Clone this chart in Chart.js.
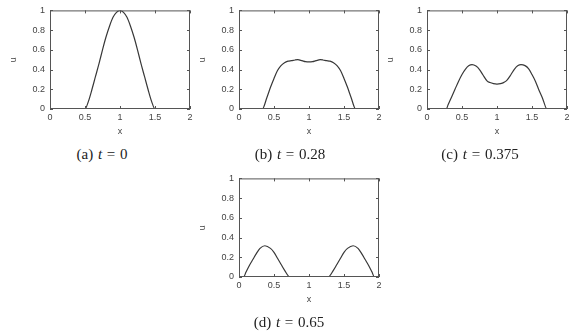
<!DOCTYPE html>
<html lang="en">
<head>
<meta charset="UTF-8">
<title>u(x) snapshots</title>
<script src="https://cdn.jsdelivr.net/npm/chart.js"></script>
<style>
  body { margin: 0; width: 573px; height: 334px; background: #fff; position: relative; overflow: hidden; }
  canvas.panel { position: absolute; }
  .cap { position: absolute; transform: translate(-50%, -50%); white-space: nowrap;
         font-family: "Liberation Serif", "Times New Roman", serif; font-size: 15px; color: #222; word-spacing: 1px; }
</style>
</head>
<body>
<canvas id="pa" class="panel" width="192" height="137" style="left:8px;top:0px"></canvas>
<canvas id="pb" class="panel" width="192" height="137" style="left:197px;top:0px"></canvas>
<canvas id="pc" class="panel" width="188" height="137" style="left:385px;top:0px"></canvas>
<canvas id="pd" class="panel" width="192" height="137" style="left:197px;top:168px"></canvas>

<div class="cap" style="left:102px;top:154px">(a) <i>t</i> = 0</div>
<div class="cap" style="left:290px;top:154px">(b) <i>t</i> = 0.28</div>
<div class="cap" style="left:480px;top:154px">(c) <i>t</i> = 0.375</div>
<div class="cap" style="left:289px;top:322px">(d) <i>t</i> = 0.65</div>

<script>
// values
const xTicks = [0, 0.5, 1, 1.5, 2];
const uTicks = [0, 0.2, 0.4, 0.6, 0.8, 1];

// (a) t = 0
const xA = [0, 0.5, 0.55, 0.6, 0.65, 0.7, 0.75, 0.8, 0.85, 0.9, 0.95, 1.0, 1.05, 1.1, 1.15, 1.2, 1.25, 1.3, 1.35, 1.4, 1.45, 1.5, 2];
const uA = [0, 0, 0.08, 0.2, 0.33, 0.46, 0.6, 0.73, 0.84, 0.93, 0.98, 1.0, 0.98, 0.93, 0.84, 0.73, 0.6, 0.46, 0.33, 0.2, 0.08, 0, 0];

// (b) t = 0.28
const xB = [0, 0.333, 0.4, 0.45, 0.5, 0.55, 0.6, 0.65, 0.7, 0.75, 0.8, 0.84, 0.9, 0.95, 1.0, 1.05, 1.1, 1.16, 1.2, 1.25, 1.3, 1.35, 1.4, 1.45, 1.5, 1.55, 1.6, 1.667, 2];
const uB = [0, 0, 0.12, 0.22, 0.31, 0.39, 0.44, 0.47, 0.485, 0.49, 0.497, 0.5, 0.49, 0.48, 0.477, 0.48, 0.49, 0.5, 0.497, 0.49, 0.485, 0.47, 0.44, 0.39, 0.31, 0.22, 0.12, 0, 0];

// (c) t = 0.375
const xC = [0, 0.276, 0.3, 0.35, 0.4, 0.45, 0.5, 0.55, 0.6, 0.643, 0.7, 0.75, 0.8, 0.857, 0.9, 0.95, 1.0, 1.05, 1.1, 1.14, 1.2, 1.25, 1.3, 1.343, 1.4, 1.45, 1.5, 1.55, 1.6, 1.65, 1.714, 2];
const uC = [0, 0, 0.04, 0.12, 0.2, 0.28, 0.35, 0.405, 0.44, 0.45, 0.435, 0.4, 0.345, 0.286, 0.268, 0.257, 0.253, 0.257, 0.27, 0.29, 0.35, 0.405, 0.44, 0.45, 0.44, 0.41, 0.35, 0.28, 0.19, 0.11, 0, 0];

// (d) t = 0.65
const xD = [0, 0.066, 0.1, 0.15, 0.2, 0.25, 0.3, 0.37, 0.45, 0.5, 0.55, 0.6, 0.65, 0.725, 1.275, 1.35, 1.4, 1.45, 1.5, 1.55, 1.63, 1.7, 1.75, 1.8, 1.85, 1.9, 1.934, 2];
const uD = [0, 0, 0.05, 0.12, 0.18, 0.24, 0.29, 0.317, 0.29, 0.25, 0.19, 0.13, 0.07, 0, 0, 0.07, 0.13, 0.19, 0.25, 0.29, 0.317, 0.29, 0.24, 0.18, 0.12, 0.05, 0, 0];

const ink = '#444';
const tickFont = { family: 'Liberation Sans, Arial, sans-serif', size: 9 };
const titleFont = { family: 'Liberation Sans, Arial, sans-serif', size: 9 };

// box around the plot with inward ticks on all four sides
const frame = {
  id: 'frame',
  afterDatasetsDraw(chart) {
    const { ctx, chartArea: a, scales: { x, y } } = chart;
    const len = 3;
    ctx.save();
    ctx.strokeStyle = '#555';
    ctx.lineWidth = 1;
    ctx.strokeRect(a.left + 0.5, a.top + 0.5, a.right - a.left - 1, a.bottom - a.top - 1);
    ctx.beginPath();
    xTicks.forEach(v => {
      const px = Math.round(x.getPixelForValue(v)) + 0.5;
      ctx.moveTo(px, a.bottom); ctx.lineTo(px, a.bottom - len);
      ctx.moveTo(px, a.top); ctx.lineTo(px, a.top + len);
    });
    uTicks.forEach(v => {
      const py = Math.round(y.getPixelForValue(v)) + 0.5;
      ctx.moveTo(a.left, py); ctx.lineTo(a.left + len, py);
      ctx.moveTo(a.right, py); ctx.lineTo(a.right - len, py);
    });
    ctx.stroke();
    ctx.restore();
  }
};

function makePanel(id, xs, us, padRight) {
  new Chart(document.getElementById(id), {
    type: 'line',
    data: {
      datasets: [{
        data: xs.map((x, i) => ({ x: x, y: us[i] })),
        borderColor: '#383838',
        borderWidth: 1.2,
        pointRadius: 0,
        cubicInterpolationMode: 'monotone',
        fill: false
      }]
    },
    options: {
      responsive: false,
      animation: false,
      devicePixelRatio: 1,
      layout: { padding: { left: 0, top: 9, right: padRight, bottom: 0 } },
      plugins: { legend: { display: false }, tooltip: { enabled: false } },
      scales: {
        x: {
          type: 'linear', min: 0, max: 2,
          afterBuildTicks: s => { s.ticks = xTicks.map(v => ({ value: v })); },
          afterFit: s => { s.height = 28; },
          grid: { display: false, drawTicks: false },
          border: { display: false },
          ticks: { padding: 3, font: tickFont, color: ink, maxRotation: 0, autoSkip: false, callback: v => String(v) },
          title: { display: true, text: 'x', padding: 0, font: titleFont, color: ink }
        },
        y: {
          type: 'linear', min: 0, max: 1,
          afterBuildTicks: s => { s.ticks = uTicks.map(v => ({ value: v })); },
          afterFit: s => { s.width = 42; },
          grid: { display: false, drawTicks: false },
          border: { display: false },
          ticks: { padding: 5, font: tickFont, color: ink, autoSkip: false, callback: v => String(v) },
          title: { display: true, text: 'u', padding: 0, font: titleFont, color: ink }
        }
      }
    },
    plugins: [frame]
  });
}

makePanel('pa', xA, uA, 10);
makePanel('pb', xB, uB, 10);
makePanel('pc', xC, uC, 6);
makePanel('pd', xD, uD, 10);
</script>
</body>
</html>
